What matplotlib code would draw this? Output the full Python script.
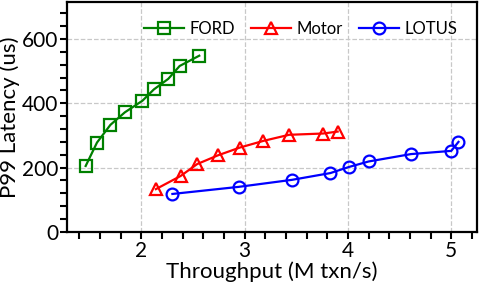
import matplotlib
matplotlib.use("Agg")
import matplotlib.pyplot as plt
from matplotlib.ticker import MultipleLocator

plt.rcParams['font.family'] = ['Lato', 'DejaVu Sans']

# throughput (M txn/s) and P99 latency (us)
ford_x = [1.46, 1.57, 1.70, 1.84, 2.01, 2.12, 2.26, 2.37, 2.56]
ford_y = [205, 278, 333, 372, 408, 443, 476, 516, 548]

motor_x = [2.14, 2.38, 2.54, 2.74, 2.95, 3.18, 3.43, 3.76, 3.90]
motor_y = [133, 174, 211, 238, 262, 283, 302, 306, 312]

lotus_x = [2.30, 2.94, 3.46, 3.83, 4.01, 4.20, 4.61, 5.00, 5.07]
lotus_y = [118, 140, 162, 183, 202, 219, 242, 252, 280]

fig = plt.figure(figsize=(4.79, 2.87), dpi=100)
ax = fig.add_axes([0.140, 0.192, 0.856, 0.801])

style = dict(linewidth=1.6, markersize=8.5, markeredgewidth=1.6,
             markerfacecolor='none')
ax.plot(ford_x, ford_y, color='#008000', marker='s', label='FORD', **style)
ax.plot(motor_x, motor_y, color='#ff0000', marker='^', label='Motor', **style)
ax.plot(lotus_x, lotus_y, color='#0000ff', marker='o', label='LOTUS', **style)

ax.set_xlim(1.28, 5.25)
ax.set_ylim(0, 715)
ax.xaxis.set_major_locator(MultipleLocator(1))
ax.xaxis.set_minor_locator(MultipleLocator(0.2))
ax.yaxis.set_major_locator(MultipleLocator(200))
ax.yaxis.set_minor_locator(MultipleLocator(40))
ax.tick_params(which='both', direction='out', width=1.5, length=5,
               labelsize=15, color='black', pad=1.5)
ax.grid(True, which='major', linestyle='--', color='#c8c8c8', linewidth=0.9)
ax.set_axisbelow(True)
for s in ax.spines.values():
    s.set_linewidth(1.6)

ax.set_xlabel('Throughput (M txn/s)', fontsize=16, labelpad=0)
ax.set_ylabel('P99 Latency (us)', fontsize=16, labelpad=1)

ax.legend(loc='upper center', bbox_to_anchor=(0.57, 1.0), ncol=3, frameon=False,
          fontsize=12, handlelength=2.4, handletextpad=0.3, columnspacing=1.0,
          borderaxespad=0.75)

fig.savefig('out.png', dpi=100)
